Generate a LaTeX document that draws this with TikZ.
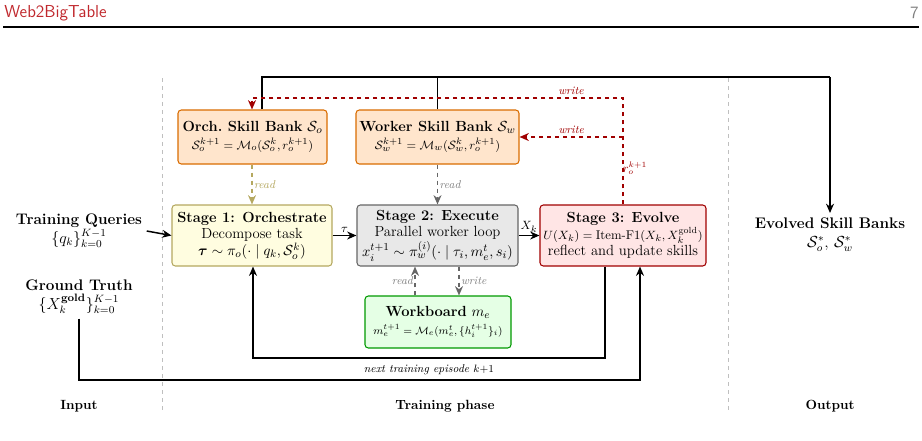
\documentclass[tikz,border=0pt]{standalone}
\usepackage{amsmath,amssymb,bm}
\usetikzlibrary{arrows.meta}
\definecolor{hdred}{HTML}{C0282D}
\definecolor{darkred}{HTML}{A00000}
\definecolor{olive}{HTML}{B5A860}
\begin{document}
\begin{tikzpicture}[x=0.75pt,y=-0.75pt,
  box/.style={draw,rounded corners=2.5pt,line width=0.8pt,align=center,inner sep=1pt,font=\fontsize{11}{12.5}\selectfont},
  arr/.style={-{Stealth[length=7pt,width=6pt]},line width=1.1pt},
  rdash/.style={dashed,darkred,line width=1.1pt},
  lbl/.style={font=\fontsize{8.5}{9}\selectfont\itshape,inner sep=1pt}]
\useasboundingbox (0,0) rectangle (922,440);
% header
\node[anchor=west,text=hdred,font=\sffamily\fontsize{13}{14}\selectfont,inner sep=0] (hd) at (4,13) {Web2BigTable};
\node[anchor=east,text=gray,font=\sffamily\fontsize{13}{14}\selectfont,inner sep=0] (pg) at (919,13) {7};
\draw[line width=0.9pt] (3,27) -- (919,27);
% dividers
\draw[dashed,gray!50,line width=0.6pt] (162,78) -- (162,413);
\draw[dashed,gray!50,line width=0.6pt] (728,78) -- (728,413);
% boxes
\node[box,fill=orange!20,draw=orange!85!black,minimum width=149*0.75pt,minimum height=54*0.75pt] (ob) at (252.5,137)
  {{\bfseries Orch.\ Skill Bank} $\mathcal{S}_o$\\[1pt] {\fontsize{9.5}{10}\selectfont $\mathcal{S}_o^{k+1}=\mathcal{M}_o(\mathcal{S}_o^k,r_o^{k+1})$}};
\node[box,fill=orange!20,draw=orange!85!black,minimum width=163*0.75pt,minimum height=54*0.75pt] (wb) at (437.5,137)
  {{\bfseries Worker Skill Bank} $\mathcal{S}_w$\\[1pt] {\fontsize{9.5}{10}\selectfont $\mathcal{S}_w^{k+1}=\mathcal{M}_w(\mathcal{S}_w^k,r_o^{k+1})$}};
\node[box,fill=yellow!12,draw=olive,minimum width=160*0.75pt,minimum height=61*0.75pt] (s1) at (252,235.5)
  {{\bfseries Stage 1: Orchestrate}\\ Decompose task\\ $\bm{\tau}\sim\pi_o(\cdot\mid q_k,\mathcal{S}_o^k)$};
\node[box,fill=gray!18,draw=gray!80!black,minimum width=161*0.75pt,minimum height=61*0.75pt] (s2) at (437.5,235.5)
  {{\bfseries Stage 2: Execute}\\ Parallel worker loop\\ $x_i^{t+1}\sim\pi_w^{(i)}(\cdot\mid\tau_i,m_e^t,s_i)$};
\node[box,fill=red!10,draw=darkred,minimum width=166*0.75pt,minimum height=61*0.75pt] (s3) at (623,235.5)
  {{\bfseries Stage 3: Evolve}\\ {\fontsize{9.5}{12}\selectfont $U(X_k)=\text{Item-F1}(X_k,X_k^{\text{gold}})$}\\ reflect and update skills};
\node[box,fill=green!10,draw=green!60!black,minimum width=146*0.75pt,minimum height=52*0.75pt] (wk) at (438,322)
  {{\bfseries Workboard} $m_e$\\[1pt] {\fontsize{8.5}{10}\selectfont $m_e^{t+1}=\mathcal{M}_e(m_e^t,\{h_i^{t+1}\}_i)$}};
% side nodes
\node[align=center,font=\fontsize{11.5}{14}\selectfont] (tq) at (79,231) {\textbf{Training Queries}\\ $\{q_k\}_{k=0}^{K-1}$};
\node[align=center,font=\fontsize{11.5}{14}\selectfont] (gt) at (79,297) {\textbf{Ground Truth}\\ $\{X_k^{\textbf{gold}}\}_{k=0}^{K-1}$};
\node[align=center,font=\fontsize{11.5}{14}\selectfont,anchor=north] (ev) at (830,213) {\textbf{Evolved Skill Banks}\\ $\mathcal{S}_o^*,\,\mathcal{S}_w^*$};
\node[font=\fontsize{10}{12}\selectfont\bfseries] (in) at (79,406) {Input};
\node[font=\fontsize{10}{12}\selectfont\bfseries] (tp) at (445,406) {Training phase};
\node[font=\fontsize{10}{12}\selectfont\bfseries] (out) at (830,406) {Output};
% top black output line
\coordinate (tl) at (262,77);
\coordinate (tr) at (830,77);
\draw[line width=1.1pt] (ob.north -| tl) -- (tl) -- (tr);
\draw[line width=1.1pt] (wb.north) -- (wb.north |- tl);
\draw[arr] (tr) -- (ev.north);
% red write lines
\coordinate (rt) at (623,98);
\coordinate (rm) at (623,137);
\draw[rdash,-{Stealth[length=7pt,width=6pt]}] (s3.north -| rt) -- (rt) -- node[lbl,above,pos=0.14,yshift=1pt,text=darkred]{write} (rt -| 252,0) -- (ob.north -| 252,0);
\draw[rdash,-{Stealth[length=7pt,width=6pt]}] (rm) -- node[lbl,above,pos=0.5,yshift=1pt,text=darkred]{write} (wb.east);
\node[text=darkred,font=\fontsize{9}{10}\selectfont,inner sep=0] (rl) at (635,168) {$r_o^{k+1}$};
% read arrows
\draw[dashed,olive,line width=1.1pt,-{Stealth[length=7pt,width=6pt]}] (ob.south -| 252,0) -- node[lbl,right,text=olive]{read} (s1.north -| 252,0);
\draw[dashed,gray!80!black,line width=1.1pt,-{Stealth[length=7pt,width=6pt]}] (wb.south) -- node[lbl,right,text=gray]{read} (s2.north);
% main flow
\draw[arr] (tq.east) -- (s1.west);
\draw[arr] (s1.east) -- node[above,font=\fontsize{9.5}{10}\selectfont,inner sep=2pt]{$\tau$} (s2.west);
\draw[arr] (s2.east) -- node[above,font=\fontsize{9.5}{10}\selectfont,inner sep=2pt]{$X_k$} (s3.west);
% workboard read/write
\draw[dashed,gray!80!black,line width=1.1pt,-{Stealth[length=7pt,width=6pt]}] (wk.north -| 415,0) -- node[lbl,left,text=gray]{read} (s2.south -| 415,0);
\draw[dashed,gray!80!black,line width=1.1pt,-{Stealth[length=7pt,width=6pt]}] (s2.south -| 459,0) -- node[lbl,right,text=gray]{write} (wk.north -| 459,0);
% loop
\coordinate (lr) at (605,358);
\coordinate (ll) at (253,358);
\draw[arr] (s3.south -| lr) -- (lr) -- node[below,font=\fontsize{8.5}{10}\selectfont\itshape,pos=0.5,yshift=-1pt]{next training episode $k{+}1$} (ll) -- (s1.south -| ll);
\coordinate (gl) at (79,380);
\coordinate (gr) at (640,380);
\draw[arr] (gt.south) -- (gl) -- (gr) -- (s3.south -| gr);
\end{tikzpicture}
\end{document}
